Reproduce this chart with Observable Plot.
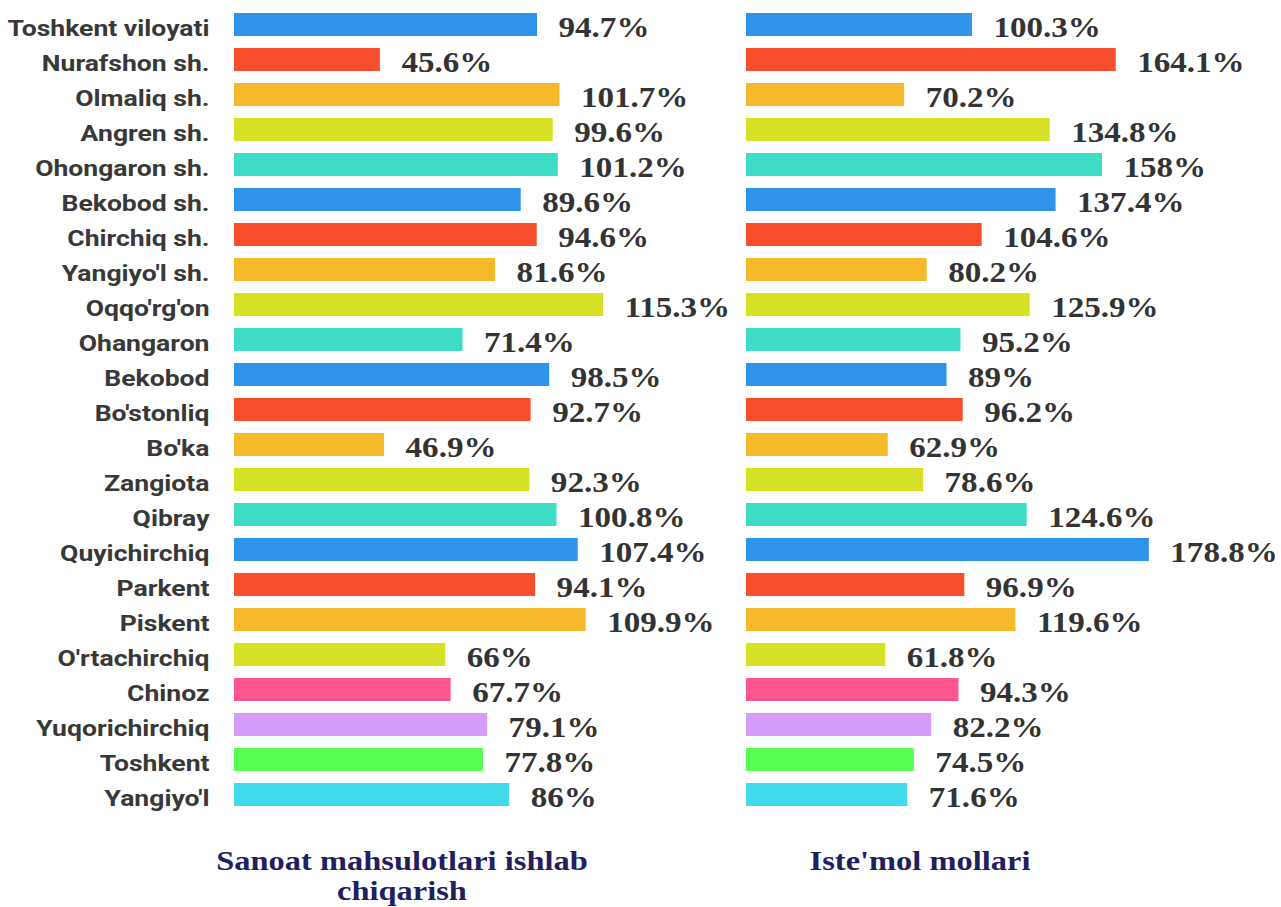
<!DOCTYPE html>
<html><head><meta charset="utf-8">
<script src="https://cdn.jsdelivr.net/npm/d3@7"></script>
<script src="https://cdn.jsdelivr.net/npm/@observablehq/plot@0.6"></script>
<style>
body{margin:0;background:#fff;width:1281px;height:907px;position:relative;overflow:hidden}
#left,#right{position:absolute;top:0}
#left{left:0}
#right{left:640px}
svg{overflow:visible}
.title{position:absolute;font-family:"Liberation Serif","Times New Roman",serif;font-weight:bold;color:#1f205e;font-size:27.5px;text-align:center;line-height:30px;transform:scaleX(1.18);transform-origin:center top;white-space:nowrap}
</style></head><body>
<div id="left"></div><div id="right"></div>
<div class="title" style="left:152px;top:846px;width:500px">Sanoat mahsulotlari ishlab<br>chiqarish</div>
<div class="title" style="left:720px;top:846px;width:400px">Iste'mol mollari</div>
<script>
const districts = ["Toshkent viloyati","Nurafshon sh.","Olmaliq sh.","Angren sh.","Ohongaron sh.","Bekobod sh.","Chirchiq sh.","Yangiyo'l sh.","Oqqo'rg'on","Ohangaron","Bekobod","Bo'stonliq","Bo'ka","Zangiota","Qibray","Quyichirchiq","Parkent","Piskent","O'rtachirchiq","Chinoz","Yuqorichirchiq","Toshkent","Yangiyo'l"];
const industry = [94.7,45.6,101.7,99.6,101.2,89.6,94.6,81.6,115.3,71.4,98.5,92.7,46.9,92.3,100.8,107.4,94.1,109.9,66,67.7,79.1,77.8,86];
const consumer = [100.3,164.1,70.2,134.8,158,137.4,104.6,80.2,125.9,95.2,89,96.2,62.9,78.6,124.6,178.8,96.9,119.6,61.8,94.3,82.2,74.5,71.6];
const barColors = ["#2f93ea","#f74f2d","#f6b92b","#d6e024","#3edcc4","#2f93ea","#f74f2d","#f6b92b","#d6e024","#3edcc4","#2f93ea","#f74f2d","#f6b92b","#d6e024","#3edcc4","#2f93ea","#f74f2d","#f6b92b","#d6e024","#ff5590","#d59cfc","#58ff50","#40daea"];

const rows = (vals) => districts.map((name, i) => ({name, v: vals[i], color: barColors[i]}));

function stretch(svg, label, s) {
  svg.querySelectorAll(`g[aria-description="${label}"] text`).forEach(t => {
    const tr = t.getAttribute("transform");
    if (tr) t.setAttribute("transform", tr + ` scale(${s},1)`);
    else {
      const x = +t.getAttribute("x") || 0, y = +t.getAttribute("y") || 0;
      t.setAttribute("transform", `translate(${x},${y}) scale(${s},1) translate(${-x},${-y})`);
    }
  });
}

function panel(vals, {width, marginLeft, xMax, showLabels}) {
  const data = rows(vals);
  const marks = [
    Plot.barX(data, {x: "v", y: "name", fill: "color"}),
    Plot.text(data, {x: "v", y: "name", text: d => d.v + "%", dx: 21, dy: 3, textAnchor: "start", ariaDescription: "values",
      fontFamily: "Liberation Serif, Times New Roman, serif", fontWeight: "bold", fontSize: 28.5, fill: "#333"})
  ];
  if (showLabels) marks.push(Plot.text(data, {x: () => 0, y: "name", text: "name", dx: -25, dy: 4, textAnchor: "end", ariaDescription: "labels",
      fontFamily: "Roboto", fontWeight: "bold", fontSize: 22.5, fill: "#383838"}));
  const svg = Plot.plot({
    width, height: 822,
    marginLeft, marginRight: 0, marginTop: 0, marginBottom: 0,
    x: {axis: null, domain: [0, xMax]},
    y: {axis: null, domain: districts, range: [1, 818], padding: 0.34},
    color: {type: "identity"},
    style: {background: "transparent", overflow: "visible"},
    marks
  });
  stretch(svg, "values", 1.16);
  stretch(svg, "labels", 1.18);
  return svg;
}

document.getElementById("left").append(panel(industry, {width: 640, marginLeft: 234, xMax: 406 / 3.2, showLabels: true}));
document.getElementById("right").append(panel(consumer, {width: 641, marginLeft: 106, xMax: 535 / 2.253, showLabels: false}));
</script>
</body></html>
